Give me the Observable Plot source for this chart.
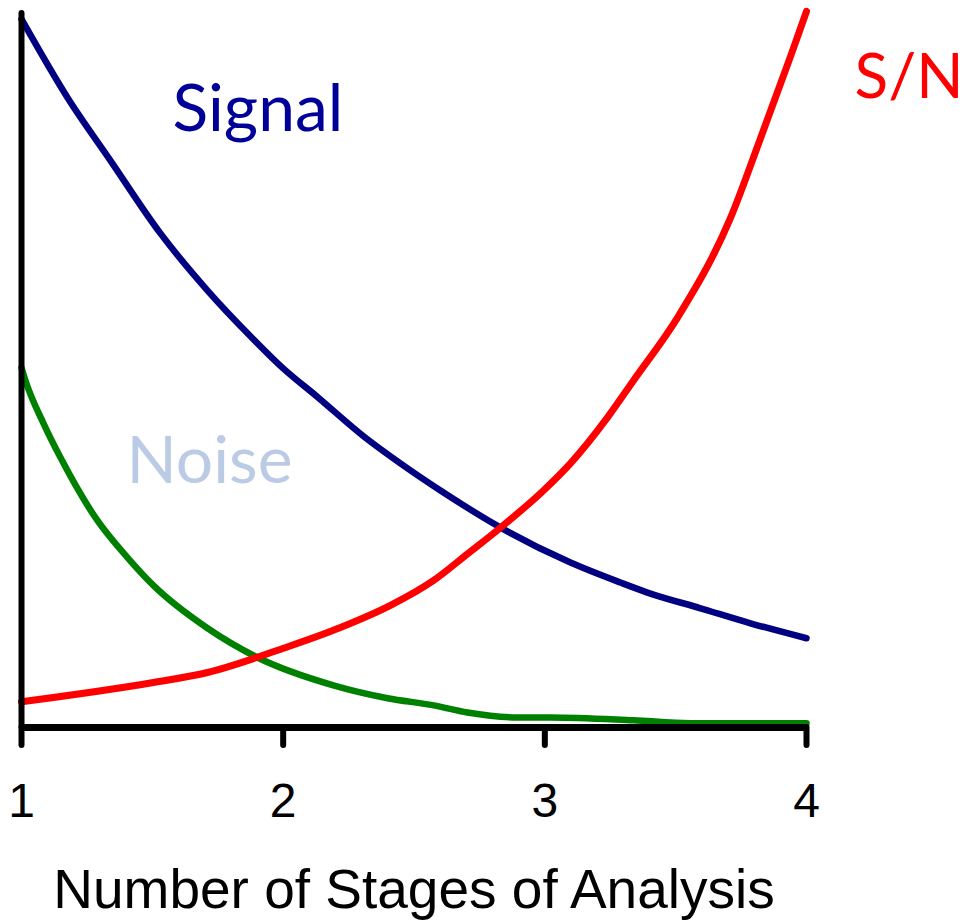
<!DOCTYPE html>
<html>
<head>
<meta charset="utf-8">
<script src="https://cdn.jsdelivr.net/npm/d3@7"></script>
<script src="https://cdn.jsdelivr.net/npm/@observablehq/plot@0.6"></script>
<style>
  html, body { margin: 0; padding: 0; background: #fff; }
  #chart svg { display: block; }
</style>
</head>
<body>
<div id="chart"></div>
<script>
// x = number of stages of analysis; y = relative level (0–100)
const signalX = [1.0, 1.176, 1.34, 1.531, 1.711, 1.875, 2.0, 2.131, 2.307, 2.448, 2.601, 2.831, 3.098, 3.289, 3.392, 3.595, 3.786, 4.0];
const signalY = [99.2, 88.2, 79.4, 69.2, 61.2, 54.8, 50.3, 46.3, 40.8, 37.0, 33.2, 28.0, 23.1, 20.3, 18.9, 16.7, 14.6, 12.5];

const noiseX = [1.0, 1.015, 1.084, 1.149, 1.29, 1.405, 1.504, 1.711, 1.902, 2.192, 2.399, 2.575, 2.704, 2.896, 3.022, 3.339, 3.557, 4.0];
const noiseY = [50.4, 48.6, 42.6, 37.8, 29.0, 23.8, 19.9, 13.9, 9.8, 5.9, 4.1, 3.1, 2.1, 1.4, 1.4, 1.0, 0.6, 0.6];

const snX = [1.0, 1.504, 1.711, 2.001, 2.219, 2.41, 2.575, 2.704, 2.831, 2.995, 3.098, 3.239, 3.339, 3.507, 3.71, 3.824, 3.939, 4.0];
const snY = [3.6, 6.3, 7.7, 11.1, 14.0, 17.1, 20.6, 24.3, 28.0, 33.2, 37.0, 43.4, 48.6, 57.4, 71.4, 82.5, 94.0, 100.3];

const xTicks = [1, 2, 3, 4];
const xTitle = "Number of Stages of Analysis";

const labelText = ["Signal", "Noise", "S/N"];
const labelX = [1.577, 1.401, 4.6];
const labelY = [83.6, 34.3, 88.1];
const labelAnchor = ["start", "start", "end"];
const labelSize = [66, 66, 62];
const labelColor = ["#000099", "#bccbe5", "#ff0000"];

const toRows = (xs, ys) => xs.map((x, i) => ({x, y: ys[i]}));
const signal = toRows(signalX, signalY);
const noise = toRows(noiseX, noiseY);
const sn = toRows(snX, snY);
const labels = labelText.map((t, i) => ({t, x: labelX[i], y: labelY[i], c: labelColor[i], a: labelAnchor[i], s: labelSize[i]}));

const labelMarks = labels.map(d => Plot.text([d], {
  x: "x", y: "y", text: "t", fill: "c",
  textAnchor: d.a,
  lineAnchor: "bottom",
  fontSize: d.s,
  fontFamily: "Lato, 'Open Sans', sans-serif"
}));

const chart = Plot.plot({
  width: 971,
  height: 922,
  marginLeft: 21,
  marginRight: 165,
  marginTop: 13,
  marginBottom: 195,
  style: {fontFamily: "'Liberation Sans', Arial, sans-serif", background: "#fff"},
  x: {domain: [1, 4]},
  y: {domain: [0, 100], axis: null},
  marks: [
    Plot.line(signal, {x: "x", y: "y", stroke: "#000080", strokeWidth: 6.5, curve: "monotone-x"}),
    Plot.line(noise, {x: "x", y: "y", stroke: "#008000", strokeWidth: 6.5, curve: "monotone-x"}),
    Plot.line(sn, {x: "x", y: "y", stroke: "#ff0000", strokeWidth: 7, curve: "monotone-x"}),
    Plot.ruleX([1], {stroke: "#000", strokeWidth: 6, strokeLinecap: "round", y1: 0, y2: 100}),
    Plot.ruleY([0], {stroke: "#000", strokeWidth: 7, x1: 1, x2: 4}),
    Plot.axisX({
      ticks: xTicks,
      tickFormat: d => String(d),
      tickSize: 18,
      tickPadding: 37,
      strokeWidth: 6,
      strokeLinecap: "round",
      fontSize: 48,
      fill: "#000",
      label: null
    }),
    Plot.text([xTitle], {
      frameAnchor: "bottom",
      dy: 180,
      lineAnchor: "bottom",
      fontSize: 55,
      fill: "#000"
    }),
    ...labelMarks
  ]
});
document.getElementById("chart").appendChild(chart);
</script>
</body>
</html>
